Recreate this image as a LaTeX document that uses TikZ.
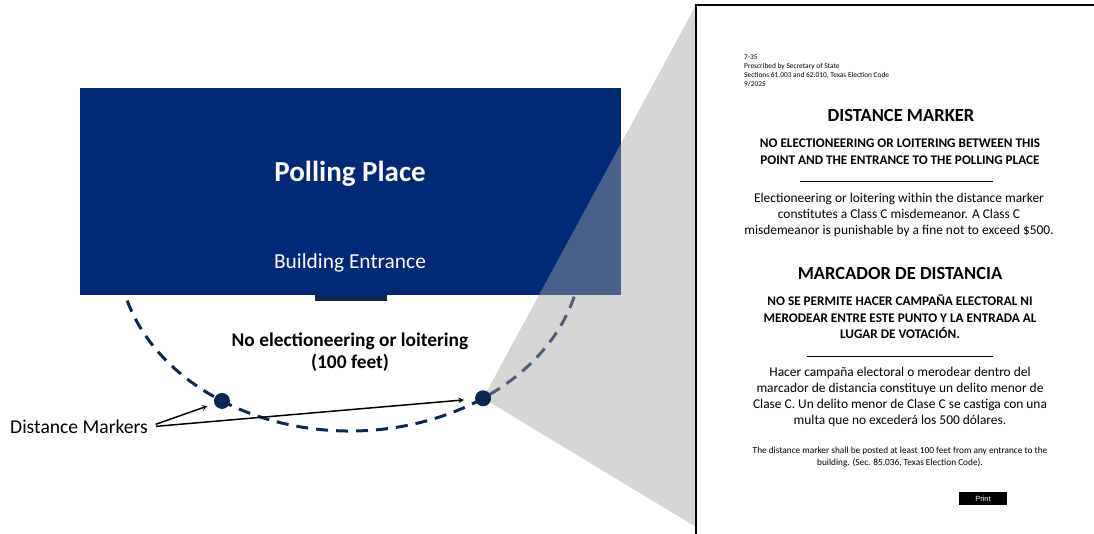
\documentclass[tikz,border=0pt]{standalone}
\usepackage{fontspec}
\setmainfont{Carlito}
\newfontfamily\printfont{Liberation Sans}
\tikzset{>=stealth}
\usetikzlibrary{positioning}
\definecolor{pollBlue}{RGB}{0,41,119}
\definecolor{markNavy}{RGB}{12,40,82}
\colorlet{background}{white}
\colorlet{shadeColor}{black!36}
\tikzset{
  signtitle/.style={font=\fontsize{18.5}{20}\selectfont\bfseries},
  signhead/.style={font=\fontsize{13.2}{16.5}\selectfont\bfseries,align=center},
  signbody/.style={font=\fontsize{13.4}{16}\selectfont,align=center},
  markerdot/.style={circle,fill=markNavy,minimum size=16pt,inner sep=0pt},
  pointer/.style={->,line width=1.5pt},
}

\begin{document}
\begin{tikzpicture}[x=1pt,y=-1pt]
\useasboundingbox (0,0) rectangle (1094,533);
\coordinate (ctr) at (350,250);% centre of the 100 feet boundary
\draw[markNavy,line width=3pt,dash pattern=on 12pt off 8pt] (ctr) ++(170:232 and 181) arc[start angle=170,end angle=8,x radius=232,y radius=181];
\node[fill=pollBlue,minimum width=541pt,minimum height=207pt,inner sep=0pt,anchor=north west] (building) at (80,88) {};
\node[fill=markNavy,minimum width=72pt,minimum height=6pt,inner sep=0pt,anchor=north] (door) at (351,295) {};
\node[white,font=\fontsize{29}{32}\selectfont\bfseries] (place) at (350,174) {Polling Place};
\node[white,font=\fontsize{21.4}{24}\selectfont] (entrance) at (350,263) {Building Entrance};
\node[font=\fontsize{19.4}{22}\selectfont\bfseries,align=center] (zone) at (350,352) {No electioneering or loitering\\(100 feet)};
\path (ctr) ++(123.5:232 and 181) coordinate (mL);
\path (ctr) ++(55:232 and 181) coordinate (mR);
% zoom wedge onto the sign
\fill[shadeColor,opacity=.45] (mR) -- (696,5) -- (696,527) -- cycle;
\node[markerdot] (dotL) at (mL) {};
\node[markerdot] (dotR) at (mR) {};
\node[font=\fontsize{19.6}{22}\selectfont,anchor=west,inner sep=0pt] (markers) at (10,427) {Distance Markers};
\draw[pointer,shorten <=8pt,shorten >=7pt] (markers.east) -- (dotL);
\draw[pointer,shorten <=8pt,shorten >=11pt] (markers.east) -- (dotR);
% the sign
\draw[line width=2pt] (696,540) -- (696,5) -- (1100,5);
\node[anchor=west,align=left,inner sep=0pt,font=\fontsize{7.4}{9}\selectfont] (header) at (744,70.5) {7-35\\Prescribed by Secretary of State\\Sections 61.003 and 62.010, Texas Election Code\\9/2025};
\node[signtitle] (titleEN) at (901,115) {DISTANCE MARKER};
\node[signhead] (headEN) at (900,151.5) {NO ELECTIONEERING OR LOITERING BETWEEN THIS\\POINT AND THE ENTRANCE TO THE POLLING PLACE};
\draw[line width=0.8pt] (800,181) -- (993,181);
\node[signbody] (bodyEN) at (899,215) {Electioneering or loitering within the distance marker\\constitutes a Class C misdemeanor. A Class C\\misdemeanor is punishable by a fine not to exceed \$500.};
\node[signtitle] (titleES) at (900,273) {MARCADOR DE DISTANCIA};
\node[signhead] (headES) at (900,317) {NO SE PERMITE HACER CAMPAÑA ELECTORAL NI\\MERODEAR ENTRE ESTE PUNTO Y LA ENTRADA AL\\LUGAR DE VOTACIÓN.};
\draw[line width=0.8pt] (807,356) -- (993,356);
\node[signbody] (bodyES) at (900,396.5) {Hacer campaña electoral o merodear dentro del\\marcador de distancia constituye un delito menor de\\Clase C. Un delito menor de Clase C se castiga con una\\multa que no excederá los 500 dólares.};
\node[align=center,font=\fontsize{9.3}{12}\selectfont] (note) at (900,457) {The distance marker shall be posted at least 100 feet from any entrance to the\\building. (Sec. 85.036, Texas Election Code).};
\node[fill=black,text=white,minimum width=48pt,minimum height=13pt,inner sep=0pt,font=\printfont\fontsize{7.5}{8}\selectfont] (print) at (983,498.5) {Print};
\end{tikzpicture}
\end{document}
